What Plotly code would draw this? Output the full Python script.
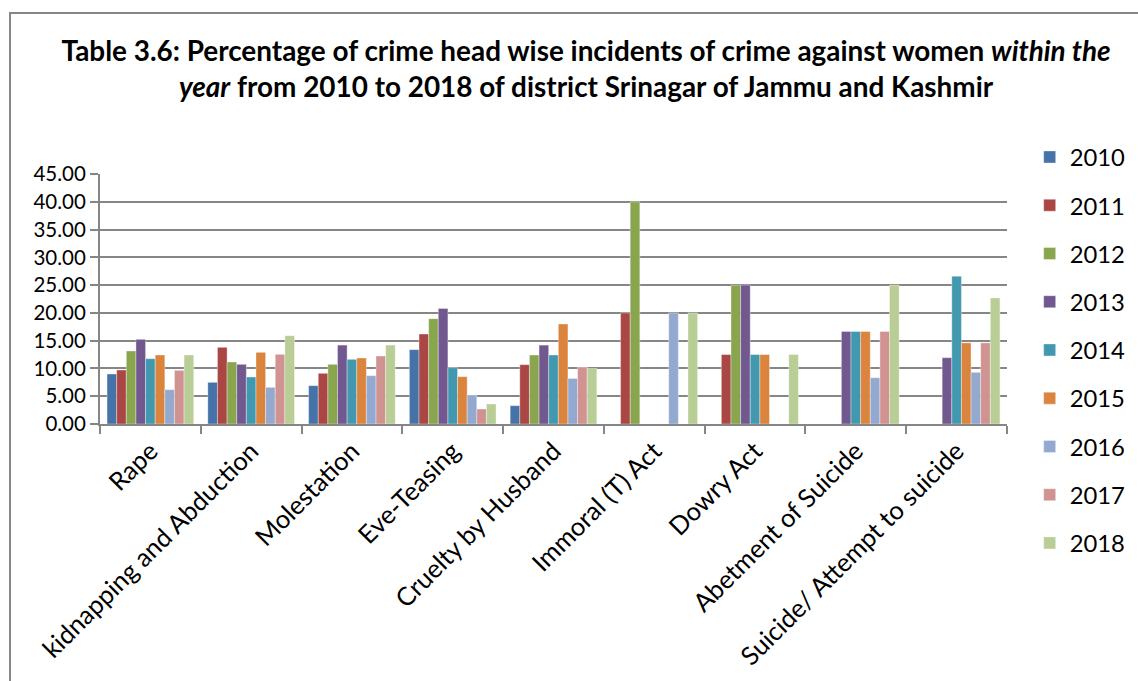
import plotly.graph_objects as go

categories = ["Rape", "kidnapping and Abduction", "Molestation", "Eve-Teasing",
              "Cruelty by Husband", "Immoral (T) Act", "Dowry Act",
              "Abetment of Suicide", "Suicide/ Attempt to suicide"]
years = ["2010", "2011", "2012", "2013", "2014", "2015", "2016", "2017", "2018"]

v2010 = [9.0, 7.5, 6.9, 13.38, 3.3, None, None, None, None]
v2011 = [9.72, 13.8, 9.12, 16.2, 10.68, 20.0, 12.5, None, None]
v2012 = [13.14, 11.16, 10.74, 18.96, 12.42, 40.0, 25.0, None, None]
v2013 = [15.24, 10.74, 14.2, 20.8, 14.2, None, 25.0, 16.67, 11.94]
v2014 = [11.76, 8.46, 11.64, 10.14, 12.42, None, 12.5, 16.67, 26.6]
v2015 = [12.42, 12.9, 11.88, 8.52, 18.0, None, 12.5, 16.67, 14.6]
v2016 = [6.18, 6.6, 8.7, 5.2, 8.2, 20.0, None, 8.33, 9.3]
v2017 = [9.66, 12.54, 12.24, 2.7, 10.26, None, None, 16.67, 14.6]
v2018 = [12.42, 15.9, 14.2, 3.6, 10.0, 20.0, 12.5, 25.0, 22.7]
series = [v2010, v2011, v2012, v2013, v2014, v2015, v2016, v2017, v2018]

colors = ["#4572A7", "#AA4643", "#89A54E", "#71588F", "#4198AF",
          "#DB843D", "#93A9CF", "#D19392", "#B9CD96"]

tick_vals = [0, 5, 10, 15, 20, 25, 30, 35, 40, 45]
tick_text = ["0.00", "5.00", "10.00", "15.00", "20.00", "25.00", "30.00",
             "35.00", "40.00", "45.00"]

FONT = "Lato, 'Open Sans', sans-serif"

fig = go.Figure()
for y, vals, c in zip(years, series, colors):
    fig.add_trace(go.Bar(
        name=y, x=categories, y=vals,
        marker=dict(color=c, line=dict(color="rgba(255,255,255,0.6)", width=0.6)),
        legendgroup=y,
    ))

fig.update_layout(
    width=1138, height=681,
    barmode="group", bargap=0.14, bargroupgap=0,
    paper_bgcolor="white", plot_bgcolor="white",
    margin=dict(l=100, r=131, t=174, b=257, autoexpand=False),
    font=dict(family=FONT, size=20, color="black"),
    title=dict(
        text="<b>Table 3.6: Percentage of crime head wise incidents of crime against women <i>within the</i><br><i>year</i> from 2010 to 2018 of district Srinagar of Jammu and Kashmir</b>",
        x=0.515, xref="container", xanchor="center",
        y=0.911, yref="container", yanchor="middle",
        font=dict(family=FONT, size=27.9, color="black"),
    ),
    legend=dict(
        x=1.025, xanchor="left", y=1.156, yanchor="top",
        font=dict(family=FONT, size=23.8, color="black"),
        tracegroupgap=14.3, itemclick=False, maxheight=640,
        bgcolor="rgba(0,0,0,0)",
    ),
    xaxis=dict(
        type="category", tickangle=-45, ticks="outside", ticklen=8,
        tickson="boundaries", tickcolor="#868686", tickwidth=2,
        showline=True, linecolor="#868686", linewidth=2,
        tickfont=dict(family=FONT, size=25.5, color="black"),
        showgrid=False,
    ),
    yaxis=dict(
        range=[0, 45], tickvals=tick_vals, ticktext=tick_text,
        ticks="outside", ticklen=8, tickcolor="#868686", tickwidth=2,
        showline=True, linecolor="#868686", linewidth=2,
        showgrid=True, gridcolor="#868686", gridwidth=2,
        tickfont=dict(family=FONT, size=20.5, color="black"),
        zeroline=False,
    ),
    shapes=[dict(
        type="rect", xref="paper", yref="paper",
        x0=-0.0992, x1=1.2, y0=-1.5, y1=1.644,
        line=dict(color="#868686", width=2), fillcolor="rgba(0,0,0,0)",
        layer="below",
    )],
)

fig.write_html("out.html",
               config={"displayModeBar": False},
               post_script="document.body.style.margin='0';document.body.style.overflow='hidden';")
